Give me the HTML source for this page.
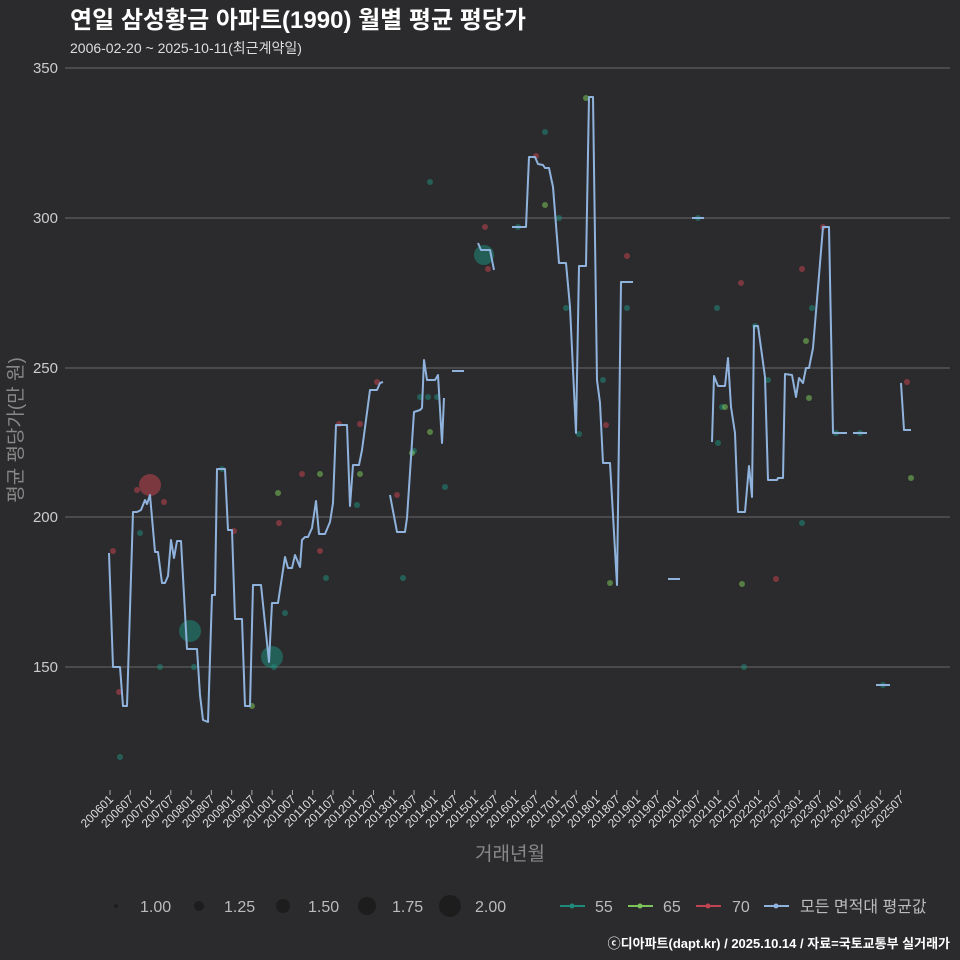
<!DOCTYPE html>
<html><head><meta charset="utf-8"><style>
body{margin:0;background:#2b2b2d;}
svg{display:block;font-family:"Liberation Sans","Noto Sans CJK KR",sans-serif;}
</style></head><body>
<svg width="960" height="960" viewBox="0 0 960 960">
<rect width="960" height="960" fill="#2b2b2d"/>
<text x="70" y="28" fill="#fff" font-size="24" font-weight="bold">연일 삼성황금 아파트(1990) 월별 평균 평당가</text>
<text x="70" y="53" fill="#ddd" font-size="14">2006-02-20 ~ 2025-10-11(최근계약일)</text>
<g stroke="#6a6a6a" stroke-width="1">
<line x1="65" x2="950" y1="68" y2="68"/><line x1="65" x2="950" y1="218" y2="218"/>
<line x1="65" x2="950" y1="368" y2="368"/><line x1="65" x2="950" y1="517" y2="517"/>
<line x1="65" x2="950" y1="667" y2="667"/>
</g>
<g fill="#ccc" font-size="15" text-anchor="end">
<text x="58" y="73">350</text><text x="58" y="223">300</text><text x="58" y="373">250</text><text x="58" y="522">200</text><text x="58" y="672">150</text>
</g>
<text transform="translate(22,430) rotate(-90)" fill="#888" font-size="19" text-anchor="middle">평균 평당가(만 원)</text>
<text x="510" y="860" fill="#888" font-size="19" text-anchor="middle">거래년월</text>
<g fill-opacity="0.55">
<g fill="#c0434f">
<circle cx="150" cy="485" r="11"/>
<circle cx="113" cy="551" r="3"/><circle cx="119" cy="692" r="3"/><circle cx="137" cy="490" r="3"/><circle cx="164" cy="502" r="3"/><circle cx="234" cy="531" r="3"/><circle cx="279" cy="523" r="3"/><circle cx="302" cy="474" r="3"/><circle cx="320" cy="551" r="3"/><circle cx="339" cy="424" r="3"/><circle cx="360" cy="424" r="3"/><circle cx="377" cy="382" r="3"/><circle cx="397" cy="495" r="3"/><circle cx="485" cy="227" r="3"/><circle cx="488" cy="269" r="3"/><circle cx="536" cy="156" r="3"/><circle cx="627" cy="256" r="3"/><circle cx="606" cy="425" r="3"/><circle cx="741" cy="283" r="3"/><circle cx="776" cy="579" r="3"/><circle cx="802" cy="269" r="3"/><circle cx="823" cy="227" r="3"/><circle cx="907" cy="382" r="3"/>
</g>
<g fill="#1f8a7a">
<circle cx="190" cy="631" r="11"/><circle cx="272" cy="657" r="11"/><circle cx="484" cy="255" r="10"/>
<circle cx="120" cy="757" r="3"/><circle cx="140" cy="533" r="3"/><circle cx="160" cy="667" r="3"/><circle cx="194" cy="667" r="3"/><circle cx="222" cy="469" r="3"/><circle cx="274" cy="667" r="3"/><circle cx="285" cy="613" r="3"/><circle cx="326" cy="578" r="3"/><circle cx="357" cy="505" r="3"/><circle cx="403" cy="578" r="3"/><circle cx="414" cy="451" r="3"/><circle cx="420" cy="397" r="3"/><circle cx="428" cy="397" r="3"/><circle cx="437" cy="397" r="3"/><circle cx="445" cy="487" r="3"/><circle cx="430" cy="182" r="3"/><circle cx="518" cy="227" r="3"/><circle cx="545" cy="132" r="3"/><circle cx="559" cy="218" r="3"/><circle cx="566" cy="308" r="3"/><circle cx="579" cy="434" r="3"/><circle cx="603" cy="380" r="3"/><circle cx="627" cy="308" r="3"/><circle cx="698" cy="218" r="3"/><circle cx="717" cy="308" r="3"/><circle cx="718" cy="443" r="3"/><circle cx="722" cy="407" r="3"/><circle cx="744" cy="667" r="3"/><circle cx="755" cy="326" r="3"/><circle cx="768" cy="380" r="3"/><circle cx="802" cy="523" r="3"/><circle cx="812" cy="308" r="3"/><circle cx="836" cy="433" r="3"/><circle cx="860" cy="433" r="3"/><circle cx="883" cy="685" r="3"/>
</g>
<g fill="#7cc45a">
<circle cx="278" cy="493" r="3"/><circle cx="252" cy="706" r="3"/><circle cx="320" cy="474" r="3"/><circle cx="360" cy="474" r="3"/><circle cx="412" cy="453" r="3"/><circle cx="430" cy="432" r="3"/><circle cx="545" cy="205" r="3"/><circle cx="586" cy="98" r="3"/><circle cx="610" cy="583" r="3"/><circle cx="725" cy="407" r="3"/><circle cx="742" cy="584" r="3"/><circle cx="806" cy="341" r="3"/><circle cx="809" cy="398" r="3"/><circle cx="911" cy="478" r="3"/>
</g>
</g>
<g fill="none" stroke="#8fb3dc" stroke-width="2" stroke-linejoin="round">
<polyline points="109,553 113,667 120,667 123,706 127,706 133,512 137,512 141,510 145,500 147,504 150,495 155,552 158,552 162,583 165,583 168,576 171,540 174,558 177,541 181,541 187,649 193,649 197,649 200,695 203,720 208,722 212,595 215,595 217,469 225,469 228,530 232,530 235,619 242,619 245,706 250,706 253,585 261,585 269,662 272,603 278,603 285,557 288,568 292,568 295,555 300,567 302,540 305,537 308,537 312,528 316,501 319,534 325,534 330,522 333,503 336,425 347,425 350,506 353,465 359,465 362,450 370,390 377,390 380,383 383,382"/>
<polyline points="390,495 397,532 405,532 407,518 414,412 420,410 422,408 424,360 427,380 435,380 438,375 442,443 444,398"/>
<polyline points="452,371 464,371"/>
<polyline points="478,243 481,250 490,250 494,270"/>
<polyline points="512,227 526,227 529,157 535,157 538,164 543,165 545,168 549,168 553,187 559,263 566,263 570,307 576,433 579,266 586,266 589,97 593,97 597,380 600,403 603,463 610,463 617,585 621,282 633,282"/>
<polyline points="668,579 680,579"/>
<polyline points="692,218 704,218"/>
<polyline points="712,442 714,376 718,386 725,386 728,358 731,407 735,433 738,512 745,512 749,466 752,497 754,326 758,326 765,377 768,480 777,480 778,478 783,478 785,374 792,375 796,397 799,378 803,383 806,368 809,368 813,348 823,227 829,227 833,433 847,433"/>
<polyline points="853,433 867,433"/>
<polyline points="876,685 890,685"/>
<polyline points="901,383 904,430 911,430"/>
</g>
<g fill="#1a1a1a" fill-opacity="0.8">
<circle cx="116" cy="906" r="2"/><circle cx="199" cy="906" r="5"/><circle cx="283" cy="906" r="7"/><circle cx="367" cy="906" r="9"/><circle cx="450" cy="906" r="11"/>
</g>
<g fill="#bbb" font-size="16">
<text x="140" y="912">1.00</text><text x="224" y="912">1.25</text><text x="308" y="912">1.50</text><text x="392" y="912">1.75</text><text x="475" y="912">2.00</text>
</g>
<g stroke-width="2">
<line x1="560" x2="585" y1="906" y2="906" stroke="#1f8a7a"/><circle cx="572" cy="906" r="2.5" fill="#1f8a7a"/>
<line x1="628" x2="653" y1="906" y2="906" stroke="#7cc45a"/><circle cx="640" cy="906" r="2.5" fill="#7cc45a"/>
<line x1="696" x2="721" y1="906" y2="906" stroke="#c0434f"/><circle cx="708" cy="906" r="2.5" fill="#c0434f"/>
<line x1="764" x2="789" y1="906" y2="906" stroke="#8fb3dc"/><circle cx="776" cy="906" r="2.5" fill="#8fb3dc"/>
</g>
<g fill="#bbb" font-size="16">
<text x="595" y="912">55</text><text x="663" y="912">65</text><text x="732" y="912">70</text><text x="800" y="912">모든 면적대 평균값</text>
</g>
<text x="950" y="948" fill="#fff" font-size="13" font-weight="bold" text-anchor="end">ⓒ디아파트(dapt.kr) / 2025.10.14 / 자료=국토교통부 실거래가</text>
<g id="ticks" stroke="#aaa" stroke-width="1"></g>
<g id="labs" fill="#ddd" font-size="12" text-anchor="end"></g>
</svg>
<script>
var t=document.getElementById('ticks'),l=document.getElementById('labs'),ns='http://www.w3.org/2000/svg';
for(var i=0;i<40;i++){var x=110+i*20.27;var y=2006+Math.floor(i/2),m=i%2?'07':'01';
var ln=document.createElementNS(ns,'line');ln.setAttribute('x1',x);ln.setAttribute('x2',x);ln.setAttribute('y1',790);ln.setAttribute('y2',795);t.appendChild(ln);
var tx=document.createElementNS(ns,'text');tx.setAttribute('transform','translate('+(x+4)+',800) rotate(-45)');tx.textContent=y+m;l.appendChild(tx);}
</script>
</body></html>
